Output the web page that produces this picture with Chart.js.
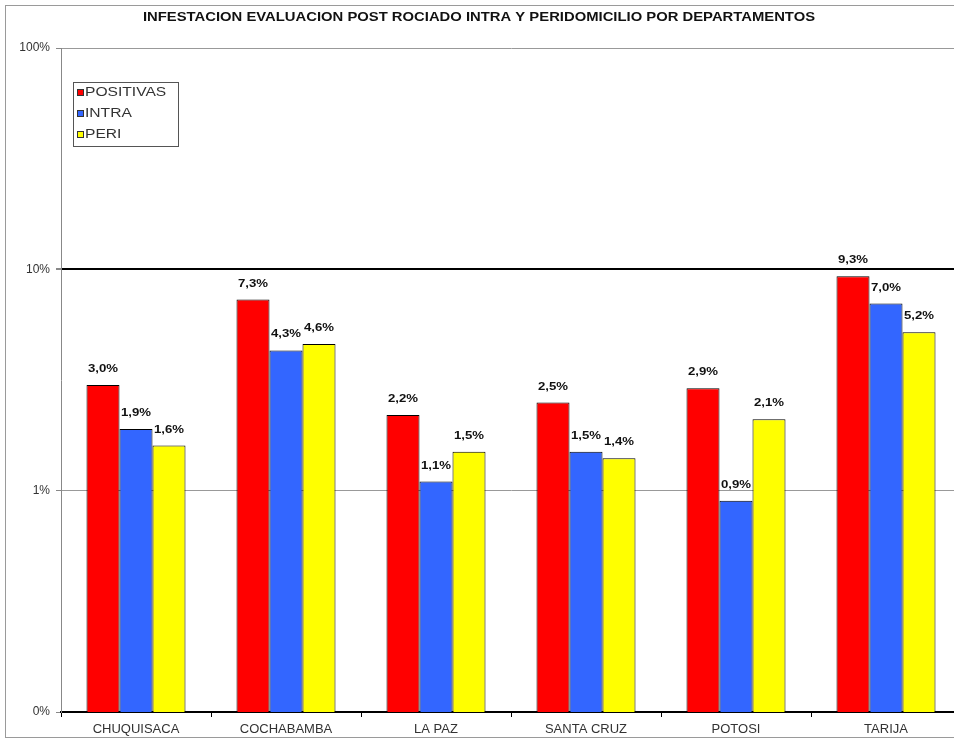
<!DOCTYPE html>
<html>
<head>
<meta charset="utf-8">
<script src="https://cdn.jsdelivr.net/npm/chart.js@4/dist/chart.umd.min.js"></script>
<style>
html,body{margin:0;padding:0;overflow:hidden;background:#fff;}
#wrap{position:absolute;left:0;top:0;width:961px;height:743px;}
</style>
</head>
<body>
<div id="wrap"><canvas id="c" width="961" height="743"></canvas></div>
<script>
const titleText = "INFESTACION EVALUACION POST ROCIADO INTRA Y PERIDOMICILIO POR DEPARTAMENTOS";
const categories = ["CHUQUISACA", "COCHABAMBA", "LA PAZ", "SANTA CRUZ", "POTOSI", "TARIJA"];
const positivas = [3.0, 7.3, 2.2, 2.5, 2.9, 9.3];
const intra = [1.9, 4.3, 1.1, 1.5, 0.9, 7.0];
const peri = [1.6, 4.6, 1.5, 1.4, 2.1, 5.2];
const seriesNames = ["POSITIVAS", "INTRA", "PERI"];
const yTickValues = [0.1, 1, 10, 100];
const yTickLabels = ["0%", "1%", "10%", "100%"];

const colors = ["#ff0000", "#3366ff", "#ffff00"];

const frameAndText = {
  id: 'frameAndText',
  beforeDraw(chart) {
    const ctx = chart.ctx;
    ctx.save();
    ctx.fillStyle = '#fff';
    ctx.fillRect(0, 0, chart.width, chart.height);
    ctx.strokeStyle = '#9a9a9a';
    ctx.lineWidth = 1;
    ctx.strokeRect(5.5, 5.5, chart.width + 20, 732);
    ctx.restore();
  },
  afterDraw(chart) {
    const ctx = chart.ctx;
    // title
    ctx.save();
    ctx.font = "bold 13px 'Liberation Sans', Arial, sans-serif";
    ctx.fillStyle = '#111';
    ctx.textAlign = 'center';
    ctx.textBaseline = 'middle';
    ctx.translate(479, 17);
    ctx.scale(1.14, 1);
    ctx.fillText(titleText, 0, 0);
    ctx.restore();

    // data labels
    chart.data.datasets.forEach((ds, i) => {
      const meta = chart.getDatasetMeta(i);
      meta.data.forEach((bar, j) => {
        const v = ds.data[j];
        const txt = v.toFixed(1).replace('.', ',') + '%';
        ctx.save();
        ctx.font = "bold 11px 'Liberation Sans', Arial, sans-serif";
        ctx.fillStyle = '#111';
        ctx.textAlign = 'center';
        ctx.textBaseline = 'middle';
        ctx.translate(bar.x, bar.y - 16);
        ctx.scale(1.2, 1);
        ctx.fillText(txt, 0, 0);
        ctx.restore();
      });
    });

    // legend box
    ctx.save();
    ctx.fillStyle = '#fff';
    ctx.fillRect(73, 82, 105, 64);
    ctx.strokeStyle = '#555';
    ctx.lineWidth = 1;
    ctx.strokeRect(73.5, 82.5, 105, 64);
    const rows = [93, 114, 135];
    chart.data.datasets.forEach((ds, i) => {
      const y = rows[i];
      ctx.fillStyle = ds.backgroundColor;
      ctx.fillRect(77, y - 4, 7, 7);
      ctx.strokeStyle = '#333';
      ctx.strokeRect(77.5, y - 3.5, 6, 6);
      ctx.save();
      ctx.font = "12px 'Liberation Sans', Arial, sans-serif";
      ctx.fillStyle = '#333';
      ctx.textAlign = 'left';
      ctx.textBaseline = 'middle';
      ctx.translate(85, y);
      ctx.scale(1.3, 1);
      ctx.fillText(ds.label, 0, 0);
      ctx.restore();
    });
    ctx.restore();
  }
};

new Chart(document.getElementById('c'), {
  type: 'bar',
  data: {
    labels: categories,
    datasets: [
      { label: seriesNames[0], data: positivas, backgroundColor: colors[0] },
      { label: seriesNames[1], data: intra, backgroundColor: colors[1] },
      { label: seriesNames[2], data: peri, backgroundColor: colors[2] }
    ]
  },
  options: {
    responsive: false,
    animation: false,
    devicePixelRatio: 1,
    layout: { padding: { top: 48, left: 0, right: 0, bottom: 0 } },
    datasets: {
      bar: {
        categoryPercentage: 0.66,
        barPercentage: 1.0,
        borderColor: '#000',
        borderWidth: 1
      }
    },
    plugins: {
      legend: { display: false },
      title: { display: false },
      tooltip: { enabled: false }
    },
    scales: {
      x: {
        offset: true,
        grid: {
          display: true,
          offset: true,
          drawOnChartArea: false,
          drawTicks: true,
          tickLength: 5,
          color: '#000'
        },
        border: { display: true, color: '#000', width: 2 },
        ticks: {
          padding: 5,
          color: '#333',
          font: { family: "'Liberation Sans', Arial, sans-serif", size: 13 },
          maxRotation: 0,
          autoSkip: false
        },
        afterFit(scale) { scale.height = 31; }
      },
      y: {
        type: 'logarithmic',
        min: 0.1,
        max: 100,
        afterBuildTicks(scale) {
          scale.ticks = yTickValues.map(v => ({ value: v }));
        },
        afterFit(scale) { scale.width = 61; },
        grid: {
          drawTicks: true,
          tickLength: 5,
          tickColor: '#888',
          color: (c) => {
            const v = c.tick && c.tick.value;
            if (v === 10) return '#000';
            if (v === 0.1) return 'rgba(0,0,0,0)';
            return '#999';
          },
          lineWidth: (c) => {
            const v = c.tick && c.tick.value;
            return v === 10 ? 2 : 1;
          }
        },
        border: { display: true, color: '#888', width: 1 },
        ticks: {
          padding: 6,
          color: '#333',
          font: { family: "'Liberation Sans', Arial, sans-serif", size: 12 },
          callback: (value, index) => yTickLabels[yTickValues.indexOf(value)] ?? ''
        }
      }
    }
  },
  plugins: [frameAndText]
});
</script>
</body>
</html>
